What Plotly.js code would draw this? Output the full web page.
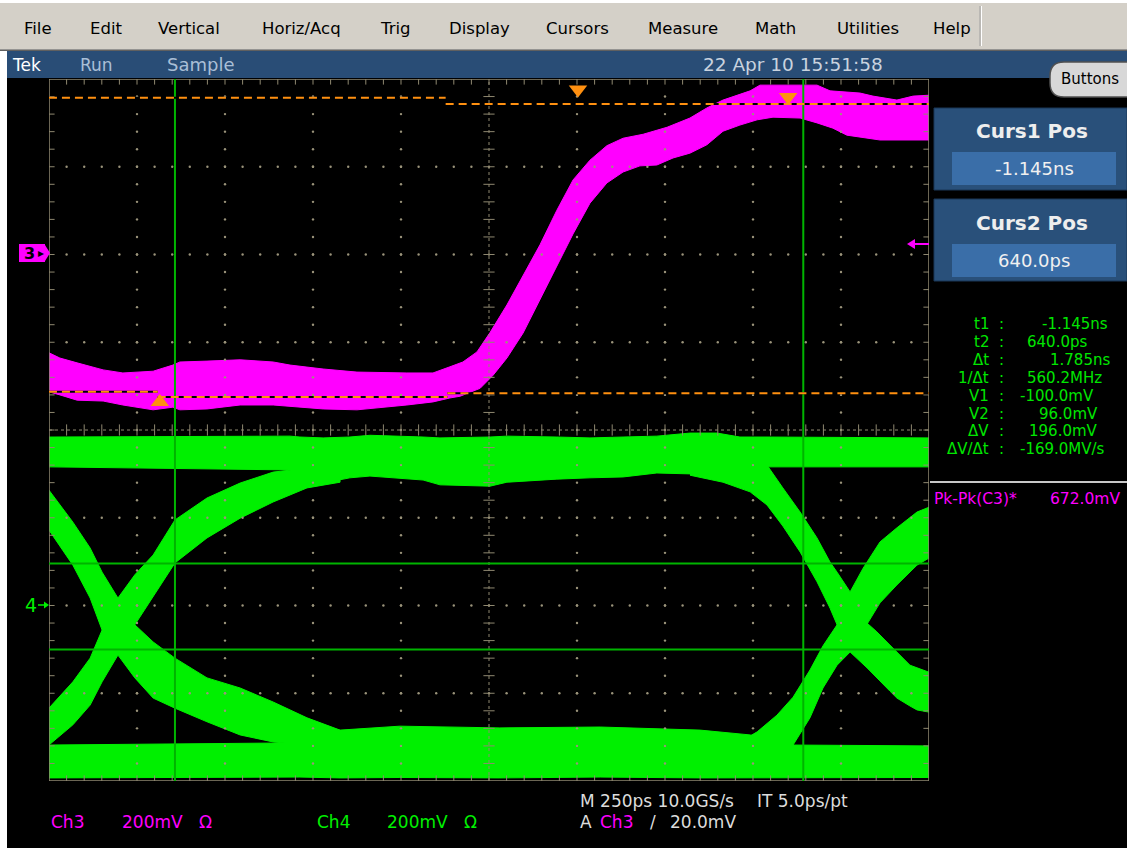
<!DOCTYPE html>
<html><head><meta charset="utf-8">
<script src="https://cdn.plot.ly/plotly-3.0.1.min.js"></script>
<style>html,body{margin:0;padding:0;background:#fff;overflow:hidden}</style>
</head><body>
<div id="chart" style="width:1127px;height:848px"></div>
<script>
// ---------------- DATA (time in ps, voltage in mV) ----------------
// Ch3 (magenta) envelope
const ch3UpperT  = [-1503,-1472,-1423,-1349,-1293,-1207,-1151,-1131,-1054,-960,-866,-818,-724,-628,-486,-412,-364,-327,-287,-250,-202,-156,-108,-60,-14,34,82,128,185,253,318,366,412,489,517,631,679,716,801,838,906,952,997];
const ch3UpperMv = [-224,-236,-247,-263,-270,-266,-252,-245,-243,-240,-245,-252,-261,-268,-270,-270,-256,-245,-222,-178,-115,-47,22,101,170,215,248,265,274,290,311,334,352,373,386,386,386,373,368,361,352,361,363];
const ch3LowerT  = [-1503,-1472,-1423,-1349,-1293,-1207,-1151,-1131,-1054,-960,-866,-724,-628,-486,-412,-364,-335,-278,-241,-202,-156,-108,-60,-14,34,82,128,176,224,270,318,366,412,460,509,554,631,679,724,764,858,997];
const ch3LowerMv = [-313,-320,-332,-334,-343,-354,-348,-354,-352,-343,-343,-352,-354,-343,-336,-327,-323,-305,-275,-236,-179,-104,-26,47,117,163,188,202,204,220,231,250,281,295,307,313,311,300,288,272,261,261];

// Ch4 (green) eye diagram pieces
const ch4TopT       = [-1503,-818,-790,-724,-648,-591,-440,-392,-250,-202,-60,34,128,224,318,395,460,537,997];
const ch4TopUpperMv = [384,386,384,382,384,388,384,382,384,386,384,382,384,386,393,393,384,384,382];
const ch4TopLowerMv = [316,309,297,279,291,295,286,275,272,281,288,291,293,302,300,293,286,316,316];

const ch4BotT       = [-1503,-790,-676,-506,-222,63,347,489,602,997];
const ch4BotUpperMv = [-318,-313,-284,-275,-279,-277,-284,-295,-318,-320];
const ch4BotLowerMv = [-393,-391,-393,-392,-393,-391,-393,-392,-393,-392];

const ch4LeftT         = [-1503,-1435,-1386,-1352,-1307,-1259,-1207,-1145,-1054,-960,-866,-770,-676];
const ch4LeftFallUpper = [263,190,131,76,17,-44,-83,-120,-165,-188,-220,-256,-284];
const ch4LeftFallLower = [172,92,17,-56,-113,-165,-211,-234,-265,-295,-311,-318,-318];
const ch4LeftRiseUpper = [-234,-174,-120,-56,17,70,115,195,245,279,304,313,313];
const ch4LeftRiseLower = [-318,-272,-227,-174,-113,-44,19,97,154,199,236,268,281];

const ch4RightFallT     = [318,412,489,537,582,631,679,716,736,773,821,849,886,906,943,963,997];
const ch4RightFallUpper = [343,343,336,320,268,213,154,99,76,31,-40,-60,-90,-106,-136,-142,-152];
const ch4RightFallLower = [297,281,259,229,181,122,54,-6,-44,-106,-142,-165,-195,-211,-229,-238,-243];

const ch4RightRiseT     = [460,509,565,611,659,696,736,773,810,858,906,963,997];
const ch4RightRiseUpper = [-311,-288,-250,-209,-147,-92,-44,31,85,145,177,213,224];
const ch4RightRiseLower = [-352,-352,-352,-318,-256,-188,-136,-106,-56,6,47,92,108];

// Cursors & measurement levels
const cursorTimes = [-1145, 640];          // ps
const cursorVolts = [-100, 96];            // mV on Ch4
const ch3LevelStart = [-1503, -376, -1503, -1194, -371];
const ch3LevelEnd   = [-376, 997, -1194, -371, 997];
const ch3LevelMv    = [357, 343, -313, -325, -316];
const markerT  = [0, 597, -1188];
const markerMv = [null, 359, -336];
const ch3TrigLevelMv = 20;

// Settings / texts
const timePerDiv = 250, ch3Scale = 200, ch4Scale = 200, ch3Pos = 2.0, ch4Pos = -2.0;
const menuItems = ["File","Edit","Vertical","Horiz/Acq","Trig","Display","Cursors","Measure","Math","Utilities","Help"];
const readoutLabels = ["t1","t2","Δt","1/Δt","V1","V2","ΔV","ΔV/Δt"];
const readoutValues = ["-1.145ns","640.0ps","1.785ns","560.2MHz","-100.0mV","96.0mV","196.0mV","-169.0MV/s"];

// ---------------- LAYOUT HELPERS ----------------
const W = 1127, H = 848;
const px = x => x / W, py = y => 1 - y / H;
const xLeft = -(578 - 49) / 88 * timePerDiv, xRight = xLeft + 10 * timePerDiv;
const ch3Div = v => v / ch3Scale + ch3Pos;
const ch4Div = v => v / ch4Scale + ch4Pos;
const MAG = '#ff00ff', GRN = '#00f000', CURS = '#00b400', ORG = '#ff9010', TAN = '#8f8870';
const SF = '"DejaVu Sans",sans-serif';
const MF = '"DejaVu Sans",sans-serif';

function band(t1, up, t2, lo, conv, color) {
  return {type:'scatter', mode:'lines', x: t1.concat(t2.slice().reverse()),
    y: up.map(conv).concat(lo.map(conv).reverse()), fill:'toself', fillcolor:color,
    line:{color:color, width:1}, hoverinfo:'skip', showlegend:false};
}

const traces = [];
traces.push(band(ch3UpperT, ch3UpperMv, ch3LowerT, ch3LowerMv, ch3Div, MAG));
traces.push(band(ch4TopT, ch4TopUpperMv, ch4TopT, ch4TopLowerMv, ch4Div, GRN));
traces.push(band(ch4BotT, ch4BotUpperMv, ch4BotT, ch4BotLowerMv, ch4Div, GRN));
traces.push(band(ch4LeftT, ch4LeftFallUpper, ch4LeftT, ch4LeftFallLower, ch4Div, GRN));
traces.push(band(ch4LeftT, ch4LeftRiseUpper, ch4LeftT, ch4LeftRiseLower, ch4Div, GRN));
traces.push(band(ch4RightFallT, ch4RightFallUpper, ch4RightFallT, ch4RightFallLower, ch4Div, GRN));
traces.push(band(ch4RightRiseT, ch4RightRiseUpper, ch4RightRiseT, ch4RightRiseLower, ch4Div, GRN));

// graticule dots
const gx = [], gy = [];
for (let i = 1; i < 10; i++) { if (i === 5) continue; for (let j = 1; j < 40; j++) { gx.push(xLeft + i * timePerDiv); gy.push(-4 + j * 0.2); } }
for (let j = 1; j < 8; j++) { if (j === 4) continue; for (let i = 1; i < 50; i++) { gx.push(xLeft + i * timePerDiv / 5); gy.push(-4 + j); } }
traces.push({type:'scatter', mode:'markers', x:gx, y:gy, marker:{size:2.4, color:'#9a937a'}, hoverinfo:'skip', showlegend:false});
// center line ticks and edge ticks
const hx = [], hy = [], vx = [], vy = [];
for (let i = 1; i < 50; i++) { const t = xLeft + i * timePerDiv / 5; hx.push(t, t, t); hy.push(0, 4, -4); }
for (let j = 1; j < 40; j++) { const v = -4 + j * 0.2; vx.push(xLeft + 5 * timePerDiv, xLeft, xRight); vy.push(v, v, v); }
traces.push({type:'scatter', mode:'markers', x:hx, y:hy, marker:{symbol:'line-ns', size:8, line:{width:1, color:TAN}}, hoverinfo:'skip', showlegend:false});
traces.push({type:'scatter', mode:'markers', x:vx, y:vy, marker:{symbol:'line-ew', size:8, line:{width:1, color:TAN}}, hoverinfo:'skip', showlegend:false});

// triangles (trigger position, Ch3 max/min)
traces.push({type:'scatter', mode:'markers', x:[markerT[0], markerT[1]], y:[3.88, ch3Div(markerMv[1])], cliponaxis:false,
  marker:{symbol:'triangle-down', size:16, color:ORG}, hoverinfo:'skip', showlegend:false});
traces.push({type:'scatter', mode:'markers', x:[markerT[2]], y:[ch3Div(markerMv[2])], cliponaxis:false,
  marker:{symbol:'triangle-up', size:16, color:ORG}, hoverinfo:'skip', showlegend:false});

// ---------------- SHAPES ----------------
function rectPx(x0, y0, x1, y1, fill, line) {
  return {type:'rect', xref:'paper', yref:'paper', x0:px(x0), x1:px(x1), y0:py(y1), y1:py(y0),
    fillcolor:fill, line: line || {width:0}, layer:'above'};
}
function linePx(x0, y0, x1, y1, color, width) {
  return {type:'line', xref:'paper', yref:'paper', x0:px(x0), x1:px(x1), y0:py(y0), y1:py(y1), line:{color, width}, layer:'above'};
}
function polyPx(pts, fill) {
  return {type:'path', xref:'paper', yref:'paper', path:'M' + pts.map(p => px(p[0]) + ',' + py(p[1])).join(' L') + ' Z',
    fillcolor:fill, line:{width:0}, layer:'above'};
}
const shapes = [];
// center dotted lines and border
shapes.push({type:'line', xref:'x', yref:'y', x0:xLeft + 5 * timePerDiv, x1:xLeft + 5 * timePerDiv, y0:-4, y1:4, line:{color:TAN, width:1, dash:'dot'}, layer:'above'});
shapes.push({type:'line', xref:'x', yref:'y', x0:xLeft, x1:xRight, y0:0, y1:0, line:{color:TAN, width:1, dash:'dot'}, layer:'above'});
shapes.push({type:'rect', xref:'x', yref:'y', x0:xLeft, x1:xRight, y0:-4, y1:4, line:{color:TAN, width:1.5}, layer:'above'});
// cursors
cursorTimes.forEach(t => shapes.push({type:'line', xref:'x', yref:'y', x0:t, x1:t, y0:-4, y1:4, line:{color:CURS, width:2}, layer:'above'}));
cursorVolts.forEach(v => shapes.push({type:'line', xref:'x', yref:'y', x0:xLeft, x1:xRight, y0:ch4Div(v), y1:ch4Div(v), line:{color:CURS, width:2}, layer:'above'}));
// Ch3 measurement level lines (orange dashed)
ch3LevelMv.forEach((v, i) => {
  shapes.push({type:'line', xref:'x', yref:'y', x0:ch3LevelStart[i], x1:ch3LevelEnd[i], y0:ch3Div(v), y1:ch3Div(v), line:{color:'#000', width:2}, layer:'above'});
  shapes.push({type:'line', xref:'x', yref:'y', x0:ch3LevelStart[i], x1:ch3LevelEnd[i], y0:ch3Div(v), y1:ch3Div(v), line:{color:ORG, width:2, dash:'8px,5px'}, layer:'above'});
});
// trigger level arrow (right edge, magenta)
shapes.push(linePx(913, 244, 929, 244, MAG, 2));
shapes.push(polyPx([[907, 244], [915, 239], [915, 249]], MAG));
// window chrome
shapes.push(rectPx(0, 0, W, 50, '#d4d0c8'));
shapes.push(rectPx(0, 0, W, 3, '#ffffff'));
shapes.push(linePx(0, 50, W, 50, '#808080', 1.5));
shapes.push(linePx(980, 6, 980, 46, '#a0a0a0', 1));
shapes.push(linePx(981.5, 6, 981.5, 46, '#ffffff', 1));
shapes.push(rectPx(0, 51, 7, H, '#ffffff'));
shapes.push(rectPx(7, 51, W, 78, '#294d76'));
// Buttons button (rounded)
(function(){
  const x0 = 1050, x1 = 1140, y0 = 62, y1 = 97, r = 14;
  const P = (x, y) => px(x) + ',' + py(y);
  const d = 'M' + P(x0 + r, y0) + ' L' + P(x1 - r, y0) + ' Q' + P(x1, y0) + ' ' + P(x1, y0 + r) +
    ' L' + P(x1, y1 - r) + ' Q' + P(x1, y1) + ' ' + P(x1 - r, y1) + ' L' + P(x0 + r, y1) +
    ' Q' + P(x0, y1) + ' ' + P(x0, y1 - r) + ' L' + P(x0, y0 + r) + ' Q' + P(x0, y0) + ' ' + P(x0 + r, y0) + ' Z';
  shapes.push({type:'path', xref:'paper', yref:'paper', path:d, fillcolor:'#d8d8d8', line:{color:'#505050', width:1.5}, layer:'above'});
})();
// cursor position panels
shapes.push(rectPx(934, 108, W, 190, '#29507a', {color:'#1b3656', width:1}));
shapes.push(rectPx(952, 152, 1116, 185, '#3a6ea8'));
shapes.push(rectPx(934, 199, W, 281, '#29507a', {color:'#1b3656', width:1}));
shapes.push(rectPx(952, 244, 1116, 277, '#3a6ea8'));
shapes.push(linePx(930, 482, W, 482, '#c8c8c8', 2));
// Ch3 marker box
shapes.push(rectPx(19, 244, 45, 262, MAG));
shapes.push(polyPx([[45, 245], [50, 253], [45, 261]], MAG));
// Ch4 marker arrow
shapes.push(linePx(38, 605, 45, 605, GRN, 1.5));
shapes.push(polyPx([[49, 605], [44, 601.5], [44, 608.5]], GRN));

// ---------------- ANNOTATIONS ----------------
function txt(text, x, y, color, size, anchor, family, bold) {
  return {text: bold ? '<b>' + text + '</b>' : text, x:px(x), y:py(y), xref:'paper', yref:'paper',
    xanchor:anchor || 'left', yanchor:'middle', showarrow:false, font:{family:family || SF, size:size, color:color}};
}
const ann = [];
const menuX = [22, 88, 156, 260, 378, 447, 544, 646, 753, 835, 931];
menuItems.forEach((m, i) => ann.push(txt(m, menuX[i], 28, '#000', 16.5, 'left', MF)));
ann.push(txt('Tek', 10, 65, '#ffffff', 17));
ann.push(txt('Run', 78, 65, '#a9bfd6', 17));
ann.push(txt('Sample', 165, 65, '#a9bfd6', 18));
ann.push(txt('22 Apr 10 15:51:58', 793, 65, '#c9d3df', 18.5, 'center'));
ann.push(txt('Buttons', 1090, 79, '#000', 15, 'center', MF));
ann.push(txt('Curs1 Pos', 1032, 131, '#eeeeee', 20, 'center', MF, true));
ann.push(txt((cursorTimes[0] / 1000).toFixed(3) + 'ns', 1034, 168, '#f0f0f0', 18, 'center'));
ann.push(txt('Curs2 Pos', 1032, 223, '#eeeeee', 20, 'center', MF, true));
ann.push(txt(cursorTimes[1].toFixed(1) + 'ps', 1034, 261, '#f0f0f0', 18, 'center'));
const roY = [324, 342, 360, 378, 396, 414, 431, 449];
const roX = [1040, 1025, 1048, 1025, 1018, 1037, 1027, 1018];
readoutLabels.forEach((l, i) => {
  ann.push(txt(l, 991, roY[i], '#00e600', 15, 'right'));
  ann.push(txt(':', 997, roY[i], '#00e600', 15, 'left'));
  ann.push(txt(readoutValues[i], roX[i], roY[i], '#00e600', 15, 'left'));
});
ann.push(txt('Pk-Pk(C3)*', 932, 499, MAG, 15.5, 'left'));
ann.push(txt('672.0mV', 1122, 499, MAG, 15.5, 'right'));
// channel markers
ann.push(txt('3', 29, 253, '#000', 16, 'center', MF, true));
ann.push(txt('▸', 41, 253, '#000', 12, 'center', MF));
ann.push(txt('4', 31, 605, GRN, 19, 'center'));
// bottom status
ann.push(txt('Ch3', 49, 822, MAG, 17));
ann.push(txt('200mV', 120, 822, MAG, 17));
ann.push(txt('Ω', 197, 822, MAG, 17));
ann.push(txt('Ch4', 315, 822, GRN, 17));
ann.push(txt('200mV', 385, 822, GRN, 17));
ann.push(txt('Ω', 462, 822, GRN, 17));
ann.push(txt('M 250ps 10.0GS/s', 578, 801, '#dcdcdc', 17));
ann.push(txt('IT 5.0ps/pt', 755, 801, '#dcdcdc', 17));
ann.push(txt('A', 578, 822, '#dcdcdc', 17));
ann.push(txt('Ch3', 598, 822, MAG, 17));
ann.push(txt('/', 648, 822, '#dcdcdc', 17));
ann.push(txt((ch3TrigLevelMv).toFixed(1) + 'mV', 668, 822, '#dcdcdc', 17));

const layout = {
  width: W, height: H, margin:{l:0, r:0, t:0, b:0}, paper_bgcolor:'#000', plot_bgcolor:'#000',
  showlegend:false,
  xaxis:{domain:[px(49), px(929)], range:[xLeft, xRight], showgrid:false, zeroline:false, showticklabels:false, showline:false, ticks:'', fixedrange:true},
  yaxis:{domain:[py(781), py(79)], range:[-4, 4], showgrid:false, zeroline:false, showticklabels:false, showline:false, ticks:'', fixedrange:true},
  shapes: shapes, annotations: ann
};
Plotly.newPlot('chart', traces, layout, {displayModeBar:false, staticPlot:true});
</script>
</body></html>
